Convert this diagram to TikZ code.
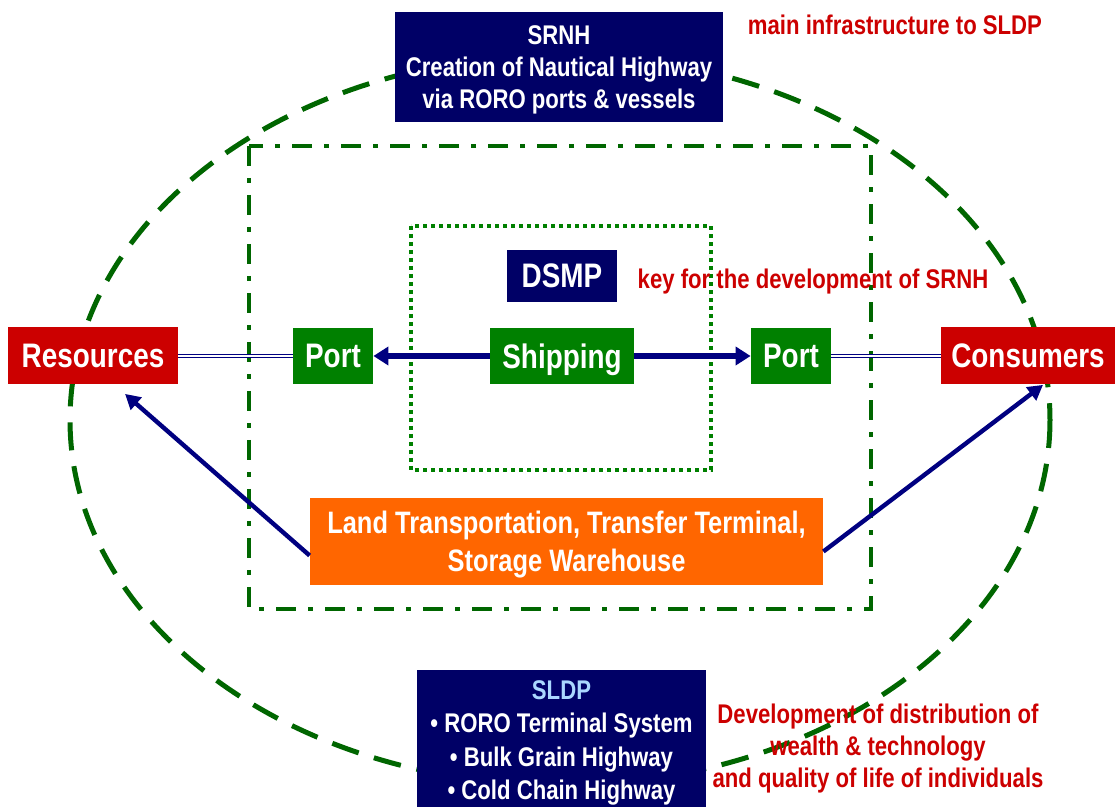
\documentclass[tikz,border=0pt]{standalone}
\usepackage{fontspec}
\setmainfont{Liberation Sans}[FakeStretch=0.82]
\usepackage{tikz}
\usetikzlibrary{arrows.meta,positioning}

\definecolor{navybox}{RGB}{0,0,102}
\definecolor{navyline}{RGB}{0,0,128}
\definecolor{redbox}{RGB}{204,0,0}
\definecolor{greenbox}{RGB}{0,128,0}
\definecolor{darkgreen}{RGB}{0,102,0}
\definecolor{orangebox}{RGB}{255,102,0}
\definecolor{lightblue}{RGB}{170,215,255}

\tikzset{
  box/.style={rectangle,inner sep=0pt,text=white,align=center,text depth=0pt},
  bigtext/.style={font=\bfseries\fontsize{17}{20}\selectfont},
  smalltext/.style={font=\bfseries\fontsize{13.5}{16}\selectfont},
  listtext/.style={font=\bfseries\fontsize{13.5}{16.6}\selectfont},
  landtext/.style={font=\bfseries\fontsize{15.5}{19}\selectfont},
  note/.style={smalltext,text=redbox,align=center,text depth=0pt},
  flow/.style={-{Triangle[length=7.5pt,width=9pt]},line width=2.8pt,navyline},
  feed/.style={-{Triangle[length=7.5pt,width=8pt]},line width=2.2pt,navyline},
  link/.style={navyline,double=white,line width=0.7pt,double distance=1pt},
}

\begin{document}
\begin{tikzpicture}[x=0.5pt,y=-0.5pt]
    \useasboundingbox (0,0) rectangle (1115,807);

    % Outer ellipse and frames
    \draw[darkgreen,line width=2.5pt,dash pattern=on 14pt off 8pt] (560,420) ellipse [x radius=490,y radius=365];
    \draw[darkgreen,line width=2pt,dash pattern=on 10pt off 6pt on 2.5pt off 6pt] (249,146) rectangle (871,609);
    \draw[greenbox,line width=2pt,dash pattern=on 2pt off 2pt] (411,226) rectangle (711,470);

    % Top box and note
    \node[box,fill=navybox,smalltext,minimum width=164pt,minimum height=55pt] (srnh) at (559,67) {SRNH\\Creation of Nautical Highway\\via RORO ports \& vessels};
    \node[note] (mainnote) at (895,25) {main infrastructure to SLDP};

    % Inner box and note
    \node[box,fill=navybox,bigtext,minimum width=55pt,minimum height=26pt] (dsmp) at (562,276) {DSMP};
    \node[note] (keynote) at (813,279) {key for the development of SRNH};

    % Middle row
    \node[box,fill=redbox,bigtext,minimum width=85pt,minimum height=28.5pt] (resources) at (93,356) {Resources};
    \node[box,fill=greenbox,bigtext,minimum width=40pt,minimum height=28pt] (lport) at (333,356) {Port};
    \node[box,fill=greenbox,bigtext,minimum width=72pt,minimum height=28pt] (shipping) at (562,356) {Shipping};
    \node[box,fill=greenbox,bigtext,minimum width=40pt,minimum height=28pt] (rport) at (791,356) {Port};
    \node[box,fill=redbox,bigtext,minimum width=87pt,minimum height=28.5pt] (consumers) at (1028,356) {Consumers};

    % Land box
    \node[box,fill=orangebox,landtext,minimum width=256.5pt,minimum height=43.5pt] (land) at (566.5,541.5) {Land Transportation, Transfer Terminal,\\Storage Warehouse};

    % Bottom box and note
    \node[box,fill=navybox,listtext,minimum width=144.5pt,minimum height=70pt] (sldp) at (561.5,740) {\textcolor{lightblue}{SLDP}\\• RORO Terminal System\\• Bulk Grain Highway\\• Cold Chain Highway};
    \node[note] (devnote) at (878,746) {Development of distribution of\\wealth \& technology\\and quality of life of individuals};

    % Links and arrows
    \draw[link] (resources) -- (lport);
    \draw[link] (rport) -- (consumers);
    \draw[flow] (shipping) -- (lport);
    \draw[flow] (shipping) -- (rport);
    \draw[feed] ([yshift=-7pt]land.west) -- ([xshift=16pt,yshift=-4.5pt]resources.south);
    \draw[feed] ([yshift=-5pt]land.east) -- ([xshift=7.5pt]consumers.south);
\end{tikzpicture}
\end{document}
